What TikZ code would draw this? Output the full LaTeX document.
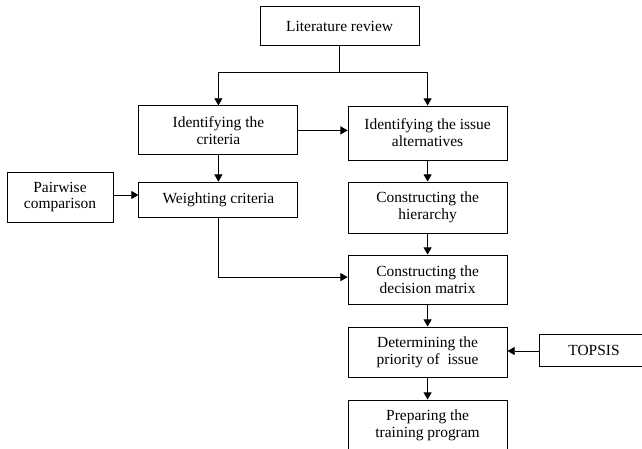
\documentclass[tikz,border=0pt]{standalone}
\usepackage{fontspec}
\setmainfont{Liberation Serif}
\usetikzlibrary{arrows.meta,positioning,calc}

\begin{document}
\begin{tikzpicture}[
    box/.style={rectangle,draw,line width=0.6pt,align=center,minimum width=3.975cm,
        font=\fontsize{11}{12}\selectfont},
    flow/.style={-{Triangle[length=0.18cm,width=0.2cm]},line width=0.6pt},
    link/.style={line width=0.6pt}]
\useasboundingbox (0,0) rectangle (16.05,11.2);
\fill[white] (0,0) rectangle (16.05,11.2);
\clip (0,0) rectangle (16.05,11.2);
        % Main chain
\node[box,minimum height=0.975cm] (lit) at (8.49,10.54) {Literature review};
\node[box,minimum height=1.225cm] (crit) at (5.46,7.94) {Identifying the\\criteria};
\node[box,minimum height=1.35cm] (alt) at (10.69,7.875) {Identifying the issue\\alternatives};
\node[box,minimum height=0.875cm] (weight) at (5.46,6.21) {Weighting criteria};
\node[box,minimum width=2.65cm,minimum height=1.25cm] (pair) at (1.5,6.275) {Pairwise\\comparison};
\node[box,minimum height=1.275cm] (hier) at (10.69,6.0125) {Constructing the\\hierarchy};
\node[box,minimum height=1.225cm] (matrix) at (10.69,4.2125) {Constructing the\\decision matrix};
\node[box,minimum height=1.25cm] (prio) at (10.69,2.4) {Determining the\\priority of \ issue};
\node[box,minimum width=2.75cm,minimum height=0.8cm] (topsis) at (14.85,2.45) {TOPSIS};
\node[box,minimum height=1.25cm] (prep) at (10.69,0.575) {Preparing the\\training program};

\coordinate (split) at ($(lit.south)+(0,-0.65)$);
\draw[link] (lit.south) -- (split);
\draw[flow] (split) -| (crit.north);
\draw[flow] (split) -| (alt.north);
\draw[flow] (crit.east) -- (crit.east -| alt.west);
\draw[flow] (crit) -- (weight);
\draw[flow] (pair.east |- 0,6.325) -- (weight.west |- 0,6.325);
\draw[flow] (weight.south) |- ($(matrix.west)+(0,0.06)$);
\draw[flow] (alt) -- (hier);
\draw[flow] (hier) -- (matrix);
\draw[flow] (matrix) -- (prio);
\draw[flow] (prio) -- (prep);
\draw[flow] (topsis.west |- 0,2.425) -- (prio.east |- 0,2.425);
    \end{tikzpicture}
\end{document}
